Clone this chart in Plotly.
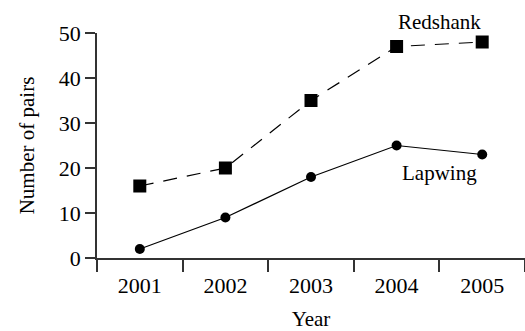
import plotly.graph_objects as go

years = ["2001", "2002", "2003", "2004", "2005"]
redshank = [16, 20, 35, 47, 48]
lapwing = [2, 9, 18, 25, 23]
y_ticks = [0, 10, 20, 30, 40, 50]

font = "Liberation Serif"
tf = dict(family=font, size=21, color="black")
tickf = dict(family=font, size=22, color="black")
fig = go.Figure()
fig.add_trace(go.Scatter(x=years, y=redshank, mode="lines+markers", name="Redshank",
                         line=dict(color="black", width=1.2, dash="14px,10px"),
                         marker=dict(symbol="square", size=13, color="black")))
fig.add_trace(go.Scatter(x=years, y=lapwing, mode="lines+markers", name="Lapwing",
                         line=dict(color="black", width=1.2),
                         marker=dict(symbol="circle", size=10, color="black")))

fig.add_annotation(x=3.5, xref="x", y=1.05, yref="paper", yanchor="middle",
                   text="Redshank", showarrow=False, font=tf)
fig.add_annotation(x=3.5, xref="x", y=18.8, yanchor="middle", text="Lapwing",
                   showarrow=False, font=tf)

fig.update_layout(
    template="none",
    width=525, height=331,
    margin=dict(l=97, r=0, t=33, b=73),
    paper_bgcolor="white", plot_bgcolor="white",
    showlegend=False,
    font=tf,
    xaxis=dict(type="category", range=[-0.5, 4.5], tickson="boundaries",
               ticks="outside", ticklen=12, tickwidth=1.5, tickcolor="#333",
               showline=True, linecolor="#333", linewidth=1.5, showgrid=False,
               zeroline=False, automargin=False, tickfont=tickf, ticklabelstandoff=7,
               title=dict(text="Year", standoff=20, font=tf)),
    yaxis=dict(range=[0, 50], tickvals=y_ticks, ticks="outside", ticklen=10,
               tickwidth=1.5, tickcolor="#333", showline=True, linecolor="#333",
               linewidth=1.5, showgrid=False, zeroline=False, automargin=False,
               tickfont=tickf, title=dict(text="Number of pairs", standoff=18, font=tf)),
)
fig.write_html("out.html", config={"displayModeBar": False},
               post_script="document.body.style.margin='0';document.body.style.overflow='hidden';")
